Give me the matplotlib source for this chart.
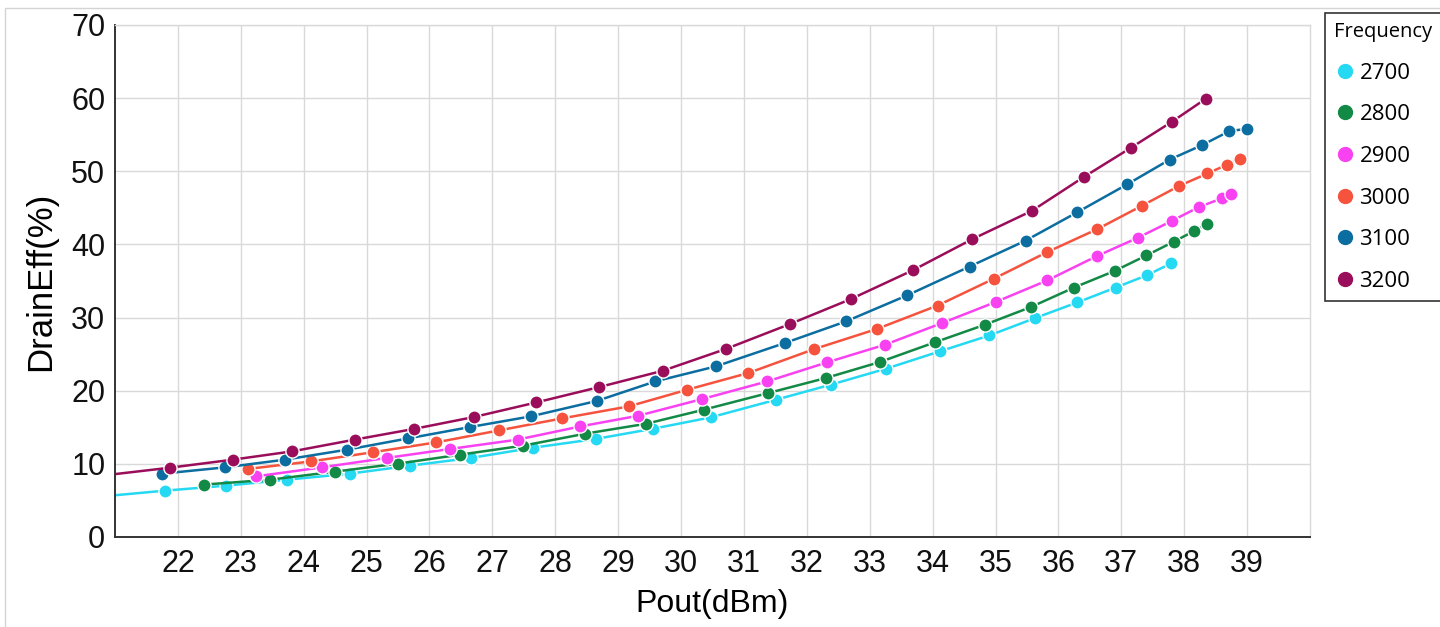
import matplotlib
matplotlib.use('Agg')
import matplotlib.pyplot as plt
from matplotlib.lines import Line2D
from matplotlib.patches import Rectangle

freqs = ['2700', '2800', '2900', '3000', '3100', '3200']
colors = ['#25D9F2', '#128A46', '#F842F2', '#F6533F', '#0B6DA0', '#9A0D5A']

pout_2700 = [20.8, 21.80, 22.77, 23.74, 24.73, 25.69, 26.66, 27.65, 28.64, 29.56, 30.47,
             31.51, 32.38, 33.26, 34.11, 34.90, 35.63, 36.30, 36.91, 37.41, 37.79]
eff_2700 = [5.55, 6.34, 7.02, 7.84, 8.66, 9.75, 10.81, 12.21, 13.40, 14.81, 16.35,
            18.77, 20.82, 23.01, 25.37, 27.55, 29.93, 32.07, 34.1, 35.8, 37.4]

pout_2800 = [22.41, 23.47, 24.49, 25.50, 26.49, 27.49, 28.48, 29.45, 30.36, 31.39, 32.30,
             33.16, 34.03, 34.83, 35.56, 36.25, 36.90, 37.40, 37.84, 38.15, 38.37]
eff_2800 = [7.16, 7.84, 8.93, 10.03, 11.26, 12.49, 14.13, 15.49, 17.40, 19.69, 21.73,
            23.92, 26.60, 29.02, 31.43, 34.11, 36.4, 38.5, 40.4, 41.8, 42.8]

pout_2900 = [23.24, 24.29, 25.32, 26.33, 27.40, 28.40, 29.32, 30.34, 31.37, 32.32, 33.24,
             34.15, 35.00, 35.82, 36.61, 37.26, 37.80, 38.23, 38.60, 38.74]
eff_2900 = [8.29, 9.52, 10.81, 12.04, 13.31, 15.12, 16.58, 18.87, 21.27, 23.87, 26.28,
            29.25, 32.12, 35.07, 38.4, 40.9, 43.2, 45.1, 46.3, 46.9]

pout_3000 = [23.11, 24.12, 25.11, 26.11, 27.11, 28.11, 29.17, 30.10, 31.07, 32.12, 33.11,
             34.08, 34.97, 35.82, 36.62, 37.33, 37.92, 38.37, 38.68, 38.88]
eff_3000 = [9.30, 10.34, 11.6, 12.94, 14.58, 16.22, 17.86, 20.14, 22.42, 25.70, 28.43,
            31.65, 35.30, 38.95, 42.1, 45.3, 48.0, 49.7, 50.9, 51.7]

pout_3100 = [21.75, 22.75, 23.70, 24.69, 25.66, 26.65, 27.61, 28.66, 29.59, 30.55, 31.65,
             32.62, 33.59, 34.59, 35.48, 36.30, 37.09, 37.77, 38.29, 38.72, 39.0]
eff_3100 = [8.66, 9.52, 10.57, 11.94, 13.48, 15.04, 16.49, 18.6, 21.27, 23.32, 26.52,
            29.47, 33.02, 36.98, 40.53, 44.4, 48.2, 51.6, 53.6, 55.5, 55.8]

pout_3200 = [20.8, 21.88, 22.87, 23.82, 24.81, 25.75, 26.71, 27.70, 28.70, 29.71, 30.71,
             31.73, 32.70, 33.69, 34.63, 35.58, 36.40, 37.15, 37.81, 38.34]
eff_3200 = [8.4, 9.48, 10.57, 11.71, 13.31, 14.77, 16.41, 18.40, 20.5, 22.73, 25.70,
            29.11, 32.53, 36.49, 40.72, 44.6, 49.2, 53.2, 56.8, 59.9]

xs = [pout_2700, pout_2800, pout_2900, pout_3000, pout_3100, pout_3200]
ys = [eff_2700, eff_2800, eff_2900, eff_3000, eff_3100, eff_3200]

fig = plt.figure(figsize=(14.4, 6.27), dpi=100)
ax = fig.add_axes([115 / 1440, 1 - 537 / 627, 1195 / 1440, 512 / 627])

for x, y, c, f in zip(xs, ys, colors, freqs):
    ax.plot(x, y, color=c, lw=1.8, marker='o', ms=9.5, mec='white', mew=1.0, label=f)

ax.set_xlim(21, 40)
ax.set_ylim(0, 70)
ax.set_xticks(range(22, 40))
ax.set_yticks(range(0, 71, 10))
ax.grid(True, color='#d9d9d9', lw=1)
ax.set_axisbelow(True)
ax.tick_params(length=0, labelsize=22, colors='#111111')
ax.tick_params(axis='x', pad=9)
ax.tick_params(axis='y', pad=7)
for lab in ax.get_xticklabels() + ax.get_yticklabels():
    lab.set_fontfamily('Liberation Sans')
for s in ['left', 'bottom']:
    ax.spines[s].set_color('#333333')
    ax.spines[s].set_linewidth(1.4)
for s in ['top', 'right']:
    ax.spines[s].set_color('#d9d9d9')
    ax.spines[s].set_linewidth(1)

ax.set_xlabel('Pout(dBm)', fontsize=23, family='Liberation Sans', labelpad=7)
ax.set_ylabel('DrainEff(%)', fontsize=25, family='Liberation Sans', labelpad=10)

# outer border of the picture
fig.add_artist(Rectangle((5 / 1440, -0.1), 1.2, 1.1 - 8 / 627,
                         transform=fig.transFigure, fill=False, ec='#d4d4d4', lw=1))

handles = [Line2D([], [], marker='o', ls='none', color=c, ms=10) for c in colors]
leg = fig.legend(handles, freqs, loc='upper left',
                 bbox_to_anchor=(1325 / 1440, 1 - 295 / 627, 0.12, 282 / 627),
                 mode='expand', alignment='left', title='Frequency',
                 prop={'family': 'Open Sans', 'size': 16},
                 title_fontproperties={'family': 'Open Sans', 'size': 14.5},
                 frameon=True, fancybox=False, edgecolor='#333333',
                 borderaxespad=0, borderpad=0.4, handletextpad=0.15,
                 handlelength=1.0, labelspacing=0.93)
leg.get_frame().set_linewidth(1.2)
leg.get_frame().set_alpha(1)
fig.add_artist(Line2D([1325 / 1440, 1.0], [1 - 48 / 627, 1 - 48 / 627],
                      transform=fig.transFigure, color='#333333', lw=1))

fig.savefig('out.png', dpi=100, facecolor='white')
